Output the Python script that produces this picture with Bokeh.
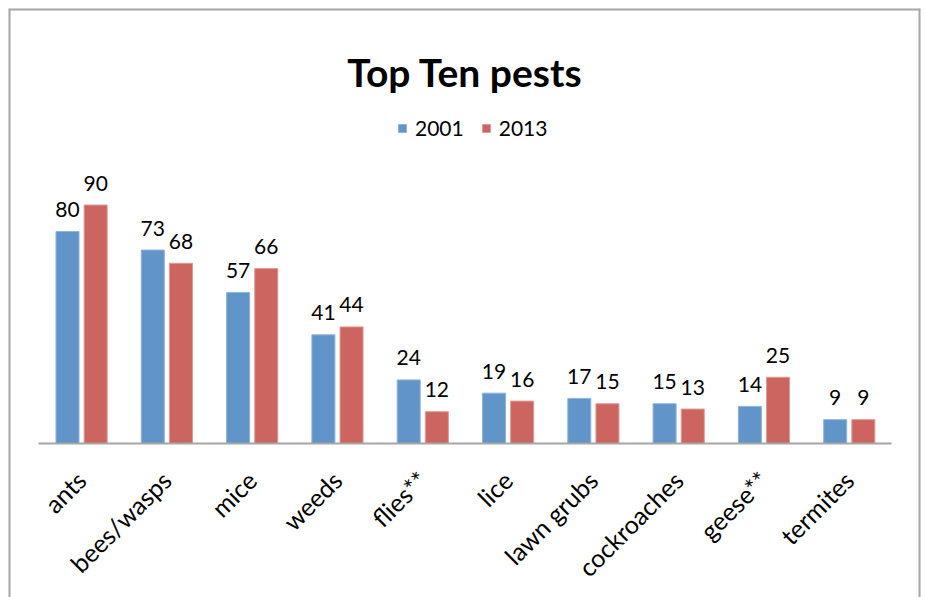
from bokeh.plotting import figure
from bokeh.models import (ColumnDataSource, Range1d, LabelSet, Label, Span,
                          Legend, LegendItem, FixedTicker)
from bokeh.core.properties import value
from bokeh.embed import file_html
from bokeh.resources import INLINE
from math import pi

# ---- data ----
pests = ["ants", "bees/wasps", "mice", "weeds", "flies**", "lice",
         "lawn grubs", "cockroaches", "geese**", "termites"]
y2001 = [80, 73, 57, 41, 24, 19, 17, 15, 14, 9]
y2013 = [90, 68, 66, 44, 12, 16, 15, 13, 25, 9]
series_names = ["2001", "2013"]
title_text = "Top Ten pests"

# ---- styling / layout (pixels) ----
BLUE = "#6195c9"
RED = "#cc6560"
FONT = "Lato"
GRAY = "#a6a6a6"
W, H = 926, 597
box_left, box_right, box_top = 8, 920, 8      # outer chart border
plot_left, plot_right, axis_y = 38, 891, 443  # plot area
px_per_unit = 2.65

ncat = len(pests)
px_per_cat = (plot_right - plot_left) / ncat
x_start = -(plot_left - box_left) / px_per_cat
x_end = ncat + (box_right - plot_right) / px_per_cat
y_start = -(H - axis_y) / px_per_unit
y_end = (axis_y - box_top) / px_per_unit

centers = [i + 0.5 for i in range(ncat)]
off1, off2, bw = -0.16, 0.17, 0.27
src = ColumnDataSource(dict(
    x1=[c + off1 for c in centers], x2=[c + off2 for c in centers],
    y2001=y2001, y2013=y2013,
    t2001=[str(v) for v in y2001], t2013=[str(v) for v in y2013]))

p = figure(width=W, height=H, x_range=Range1d(x_start, x_end),
           y_range=Range1d(y_start, y_end), output_backend="svg",
           toolbar_location=None, min_border_left=box_left,
           min_border_right=W - box_right, min_border_top=box_top,
           min_border_bottom=0)

r1 = p.vbar(x="x1", top="y2001", width=bw, source=src,
            fill_color=BLUE, line_color="#8fb4dc", line_width=1)
r2 = p.vbar(x="x2", top="y2013", width=bw, source=src,
            fill_color=RED, line_color="#e09a97", line_width=1)

for xcol, ycol, tcol in (("x1", "y2001", "t2001"), ("x2", "y2013", "t2013")):
    p.add_layout(LabelSet(x=xcol, y=ycol, text=tcol, source=src,
                          y_offset=22, text_align="center",
                          text_baseline="middle", text_font=value(FONT),
                          text_font_size=value("21px"),
                          text_color="#000000"))

p.add_layout(Label(x=ncat / 2, y=(axis_y - 71) / px_per_unit,
                   text=title_text, text_align="center",
                   text_baseline="alphabetic", text_font=FONT,
                   text_font_style="bold", text_font_size="39px",
                   text_color="#000000"))

legend = Legend(items=[LegendItem(label=series_names[0], renderers=[r1]),
                       LegendItem(label=series_names[1], renderers=[r2])],
                orientation="horizontal", location=(389, 457),
                glyph_width=10, glyph_height=10, label_standoff=8,
                spacing=17, padding=0, margin=0,
                label_text_font=FONT, label_text_font_size="21px",
                label_text_color="#000000",
                border_line_color=None, background_fill_alpha=0)
p.add_layout(legend)

xa = p.xaxis[0]
xa.fixed_location = 0
xa.bounds = (0, ncat)
xa.ticker = FixedTicker(ticks=centers)
xa.major_label_overrides = {c: name for c, name in zip(centers, pests)}
xa.major_label_orientation = pi / 4
xa.major_label_text_font = FONT
xa.major_label_text_font_size = "25px"
xa.major_label_text_color = "#000000"
xa.major_label_standoff = 26
xa.axis_line_color = GRAY
xa.axis_line_width = 2
xa.major_tick_line_color = None
xa.minor_tick_line_color = None
p.yaxis.visible = False
p.xgrid.visible = False
p.ygrid.visible = False
p.outline_line_color = None

for loc, dim in ((x_start, "height"), (x_end, "height"), (y_end, "width")):
    p.add_layout(Span(location=loc, dimension=dim, line_color=GRAY,
                      line_width=4))

open("out.html", "w").write(file_html(p, INLINE))
